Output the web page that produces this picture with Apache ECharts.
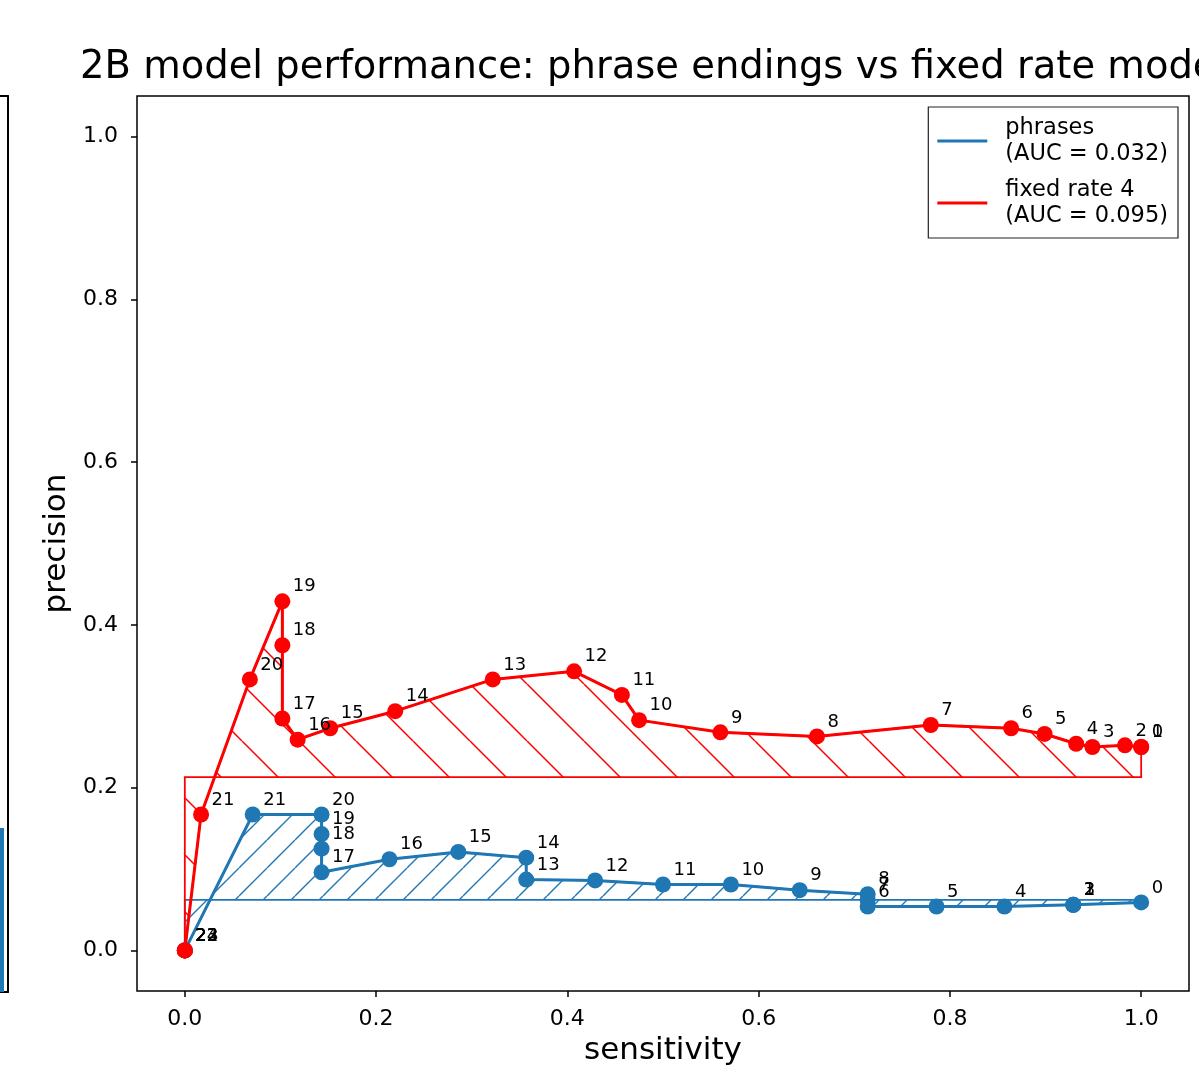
<!DOCTYPE html>
<html>
<head>
<meta charset="utf-8">
<script src="https://cdn.jsdelivr.net/npm/echarts@6/dist/echarts.min.js"></script>
<style>
  html, body { margin: 0; padding: 0; background: #fff; }
  #chart { width: 1199px; height: 1071px; }
</style>
</head>
<body>
<div id="chart"></div>
<script>
// ---- data ----
const titleText = '2B model performance: phrase endings vs fixed rate model';
const seriesNames = ['phrases', 'fixed rate 4'];
const aucTexts = ['(AUC = 0.032)', '(AUC = 0.095)'];
const tickVals = [0, 0.2, 0.4, 0.6, 0.8, 1.0];

// phrases (blue): sensitivity / precision per threshold index
const blueLabels = ['0','1','2','3','4','5','6','7','8','9','10','11','12','13','14','15','16','17','18','19','20','21','22','23'];
const blueSens = [1.0, 0.929, 0.929, 0.929, 0.857, 0.786, 0.714, 0.714, 0.714, 0.643, 0.571, 0.500, 0.429, 0.357, 0.357, 0.286, 0.214, 0.143, 0.143, 0.143, 0.143, 0.071, 0, 0];
const bluePrec = [0.059, 0.056, 0.056, 0.056, 0.054, 0.054, 0.054, 0.062, 0.069, 0.074, 0.081, 0.081, 0.086, 0.087, 0.114, 0.121, 0.112, 0.096, 0.125, 0.143, 0.167, 0.167, 0, 0];
const blueBase = 0.062;

// fixed rate 4 (red)
const redLabels = ['0','1','2','3','4','5','6','7','8','9','10','11','12','13','14','15','16','17','18','19','20','21','22','23','24'];
const redSens = [1.0, 1.0, 0.983, 0.949, 0.932, 0.899, 0.864, 0.780, 0.661, 0.560, 0.475, 0.457, 0.407, 0.322, 0.220, 0.152, 0.118, 0.102, 0.102, 0.102, 0.068, 0.017, 0, 0, 0];
const redPrec = [0.250, 0.250, 0.252, 0.250, 0.254, 0.266, 0.273, 0.277, 0.263, 0.268, 0.283, 0.314, 0.343, 0.333, 0.294, 0.273, 0.259, 0.285, 0.375, 0.429, 0.333, 0.167, 0, 0, 0];
const redBase = 0.213;

// neighbouring (cropped) subplot: visible edge of one bar
const sideBar = [[0, 0.183]];

// ---- styling ----
const BLUE = '#1f77b4';
const RED = '#ff0000';
const FONT = 'DejaVu Sans';

function hatch(color, s, dir, lw) {
  const c = document.createElement('canvas');
  c.width = s; c.height = s;
  const ctx = c.getContext('2d');
  ctx.strokeStyle = color; ctx.lineWidth = lw;
  ctx.beginPath();
  for (let k = -1; k <= 1; k++) {
    if (dir === '\\') { ctx.moveTo(k * s, 0); ctx.lineTo(k * s + s, s); }
    else { ctx.moveTo(k * s, s); ctx.lineTo(k * s + s, 0); }
  }
  ctx.stroke();
  return c;
}
const redHatch = hatch(RED, 57, '\\', 1.5);
const blueHatch = hatch(BLUE, 28, '/', 1.4);

function fillSeries(xs, ys, base, color, pat, px) {
  return {
    type: 'custom', coordinateSystem: 'cartesian2d', xAxisIndex: 0, yAxisIndex: 0,
    silent: true, data: [[0, 0]],
    renderItem: function (params, api) {
      const pts = [api.coord([xs[0], base])];
      for (let i = 0; i < xs.length; i++) pts.push(api.coord([xs[i], ys[i]]));
      pts.push(api.coord([xs[xs.length - 1], base]));
      return {
        type: 'polygon', shape: { points: pts },
        style: { fill: { type: 'pattern', image: pat, repeat: 'repeat', x: px, y: 0 }, stroke: color, lineWidth: 1.8 }
      };
    }
  };
}

function lineSeries(name, xs, ys, labels, color) {
  return {
    name: name, type: 'line', xAxisIndex: 0, yAxisIndex: 0,
    data: xs.map((x, i) => [x, ys[i]]),
    symbol: 'circle', symbolSize: 16, showSymbol: true,
    lineStyle: { color: color, width: 3 },
    itemStyle: { color: color },
    label: {
      show: true, position: [18.5, -6.5], align: 'left', verticalAlign: 'middle',
      formatter: p => labels[p.dataIndex],
      fontFamily: FONT, fontSize: 18, color: '#000'
    },
    emphasis: { disabled: true }
  };
}

const sideAxisLine = { show: true, onZero: false, lineStyle: { color: '#000', width: 2 } };

const chart = echarts.init(document.getElementById('chart'), null, { renderer: 'canvas' });
chart.setOption({
  animation: false,
  backgroundColor: '#fff',
  title: {
    text: titleText, left: 80, top: 46, padding: 0,
    textStyle: { fontFamily: FONT, fontSize: 38.5, fontWeight: 'normal', color: '#000', lineHeight: 44 }
  },
  legend: {
    data: seriesNames, right: 21, top: 107, orient: 'vertical',
    icon: 'path://M0,0L50,0L50,3L0,3Z', itemWidth: 50, itemHeight: 3, itemGap: 10,
    padding: [8, 10, 9, 9],
    borderColor: '#222', borderWidth: 1.2, backgroundColor: '#fff',
    formatter: name => name + '\n' + aucTexts[seriesNames.indexOf(name)],
    textStyle: { fontFamily: FONT, fontSize: 22.5, lineHeight: 26, color: '#000', padding: [0, 0, 0, 13] },
    selectedMode: false
  },
  grid: [
    { left: 137, top: 96, width: 1052, height: 897, show: true, borderColor: '#000', borderWidth: 1.5, backgroundColor: 'transparent', containLabel: false },
    { left: 0, top: 96, width: 8, height: 896, show: false }
  ],
  xAxis: [
    {
      gridIndex: 0, type: 'value', min: -0.05, max: 1.05,
      name: 'sensitivity', nameLocation: 'middle', nameGap: 40,
      nameTextStyle: { fontFamily: FONT, fontSize: 31, color: '#000' },
      axisLine: { show: false, onZero: false },
      axisTick: { show: true, length: 6, inside: false, customValues: tickVals, lineStyle: { color: '#000', width: 1.5 } },
      axisLabel: { customValues: tickVals, formatter: v => v.toFixed(1), fontFamily: FONT, fontSize: 22, color: '#000', margin: 17 },
      splitLine: { show: false }
    },
    { gridIndex: 1, type: 'value', min: 0, max: 1, position: 'bottom', axisLine: sideAxisLine, axisTick: { show: false }, axisLabel: { show: false }, splitLine: { show: false } },
    { gridIndex: 1, type: 'value', min: 0, max: 1, position: 'top', axisLine: sideAxisLine, axisTick: { show: false }, axisLabel: { show: false }, splitLine: { show: false } }
  ],
  yAxis: [
    {
      gridIndex: 0, type: 'value', min: -0.05, max: 1.05,
      name: 'precision', nameLocation: 'middle', nameGap: 62,
      nameTextStyle: { fontFamily: FONT, fontSize: 31, color: '#000' },
      axisLine: { show: false, onZero: false },
      axisTick: { show: true, length: 6, inside: false, customValues: tickVals, lineStyle: { color: '#000', width: 1.5 } },
      axisLabel: { customValues: tickVals, formatter: v => v.toFixed(1), fontFamily: FONT, fontSize: 22, color: '#000', margin: 19 },
      splitLine: { show: false }
    },
    { gridIndex: 1, type: 'value', min: 0, max: 1, position: 'right', axisLine: sideAxisLine, axisTick: { show: false }, axisLabel: { show: false }, splitLine: { show: false } }
  ],
  series: [
    fillSeries(blueSens, bluePrec, blueBase, BLUE, blueHatch, 15),
    lineSeries(seriesNames[0], blueSens, bluePrec, blueLabels, BLUE),
    fillSeries(redSens, redPrec, redBase, RED, redHatch, 14),
    lineSeries(seriesNames[1], redSens, redPrec, redLabels, RED),
    {
      type: 'bar', xAxisIndex: 1, yAxisIndex: 1, data: sideBar, barWidth: 8, clip: true,
      itemStyle: { color: BLUE }, silent: true
    }
  ]
});
</script>
</body>
</html>
